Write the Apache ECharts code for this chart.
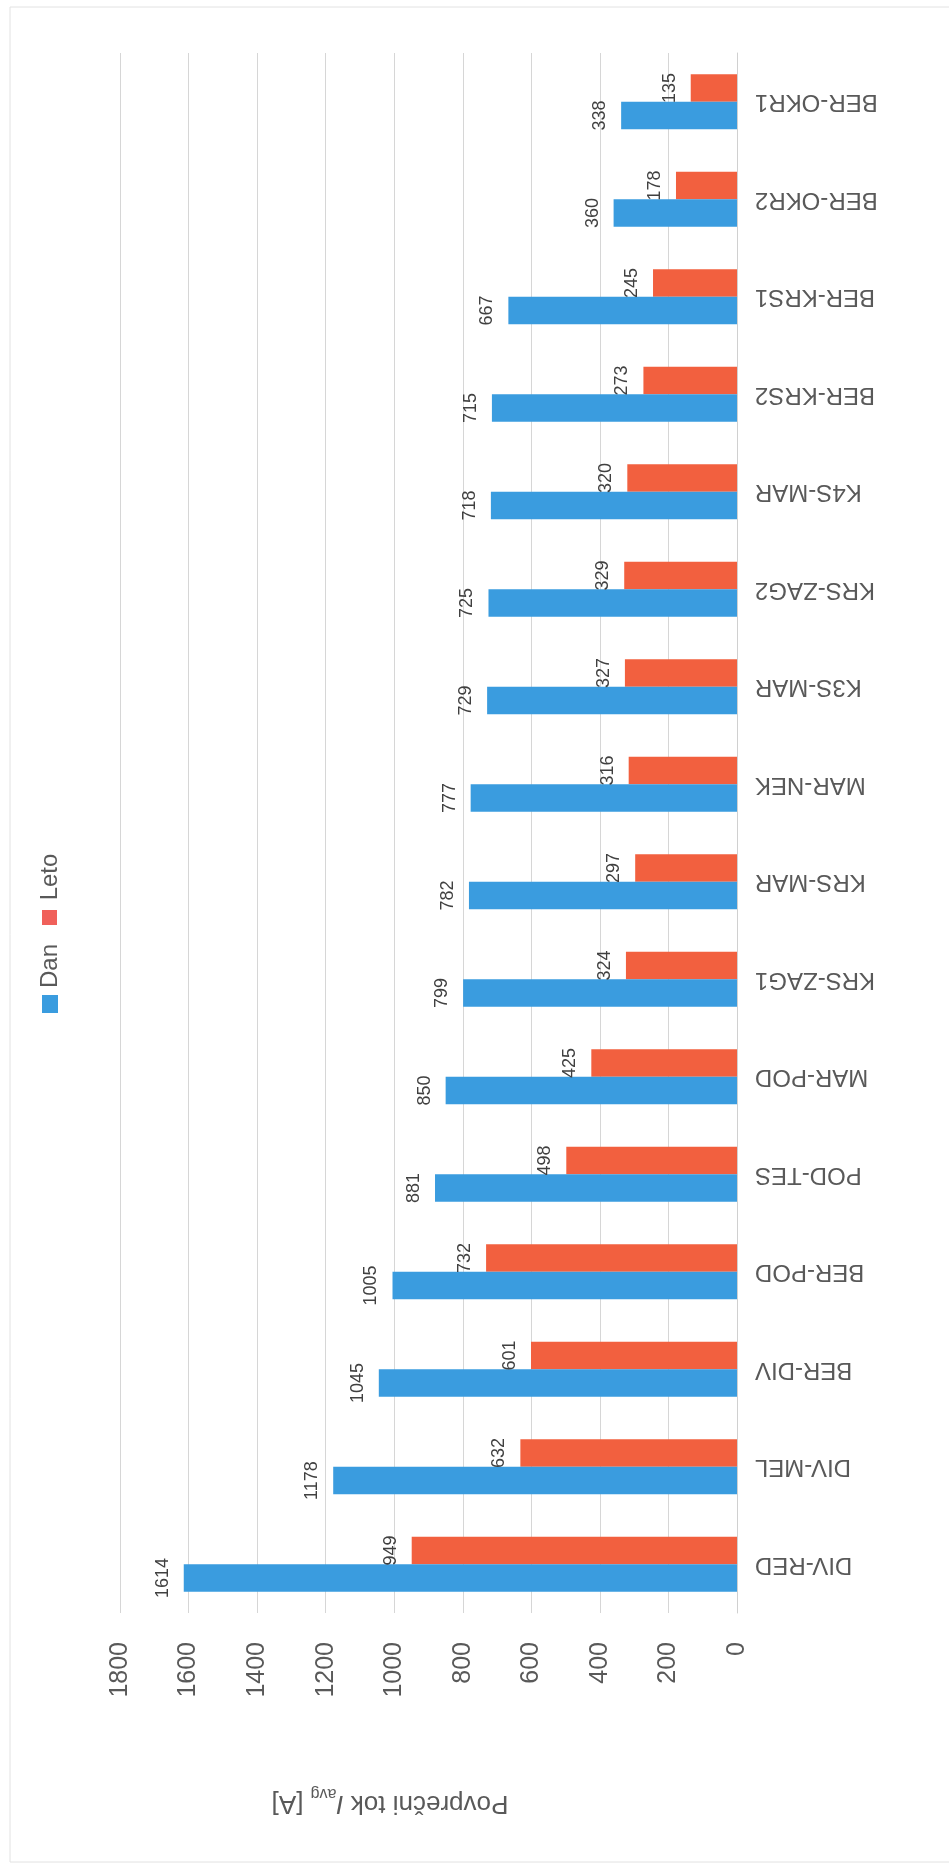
<!DOCTYPE html>
<html>
<head>
<meta charset="utf-8">
<title>Povprečni tok</title>
<script src="https://cdn.jsdelivr.net/npm/echarts@6/dist/echarts.min.js"></script>
<style>
  html, body { margin: 0; padding: 0; background: #fff; }
  #chart { width: 949px; height: 1866px; }
</style>
</head>
<body>
<div id="chart"></div>
<script>
// categories, from the bottom of the page to the top
var categories = [
  "DIV-RED", "DIV-MEL", "BER-DIV", "BER-POD", "POD-TES", "MAR-POD",
  "KRS-ZAG1", "KRS-MAR", "MAR-NEK", "K3S-MAR", "KRS-ZAG2", "K4S-MAR",
  "BER-KRS2", "BER-KRS1", "BER-OKR2", "BER-OKR1"
];
var dan = [1614, 1178, 1045, 1005, 881, 850, 799, 782, 777, 729, 725, 718, 715, 667, 360, 338];
var leto = [949, 632, 601, 732, 498, 425, 324, 297, 316, 327, 329, 320, 273, 245, 178, 135];
var valueTicks = { min: 0, max: 1800, interval: 200 };
var seriesNames = ["Dan", "Leto"];

var blue = "#3a9cdf";
var red = "#f2603f";
var textColor = "#595959";
var font = "Liberation Sans";

var myChart = echarts.init(document.getElementById("chart"));

function barLabel() {
  return {
    show: true,
    position: "left",
    distance: 12,
    rotate: 90,
    align: "center",
    verticalAlign: "bottom",
    color: "#404040",
    fontSize: 18,
    fontFamily: font,
  };
}

myChart.setOption({
  animation: false,
  backgroundColor: "#fff",
  textStyle: { fontFamily: font },
  grid: { left: 120, right: 212, top: 53, bottom: 253 },
  xAxis: {
    type: "value",
    inverse: true,
    position: "bottom",
    min: valueTicks.min,
    max: valueTicks.max,
    interval: valueTicks.interval,
    axisLine: { show: false },
    axisTick: { show: false },
    axisLabel: {
      rotate: 90,
      margin: 29,
      color: textColor,
      fontSize: 25,
      fontFamily: font,
      formatter: function (v) { return String(v); },
    },
    splitLine: { show: true, lineStyle: { color: "#d6d6d6", width: 1 } },
  },
  yAxis: {
    type: "category",
    position: "right",
    data: categories,
    axisLine: { show: true, lineStyle: { color: "#d0d0d0", width: 1 } },
    axisTick: { show: false },
    axisLabel: {
      interval: 0,
      rotate: 180,
      align: "right",
      verticalAlign: "middle",
      margin: 18,
      color: textColor,
      fontSize: 24,
      fontFamily: font,
    },
    splitLine: { show: false },
  },
  // Leto listed first so that it sits above Dan in each group
  series: [
    {
      name: seriesNames[1],
      type: "bar",
      data: leto,
      itemStyle: { color: red },
      barGap: "0%",
      barCategoryGap: "43.5%",
      label: barLabel(),
    },
    {
      name: seriesNames[0],
      type: "bar",
      data: dan,
      itemStyle: { color: blue },
      label: barLabel(),
    },
  ],
  graphic: [
    // faint border of the scanned chart area
    {
      type: "rect",
      shape: { x: 10, y: 7, width: 960, height: 1855 },
      style: { fill: null, stroke: "#e2e2e2", lineWidth: 1 },
      silent: true,
    },
    // legend, turned with the page
    {
      type: "rect",
      shape: { x: 42, y: 995, width: 16, height: 18 },
      style: { fill: blue },
    },
    {
      type: "text",
      x: 50,
      y: 966,
      rotation: Math.PI / 2,
      style: {
        text: seriesNames[0],
        fill: textColor,
        font: "24px " + font,
        align: "center",
        verticalAlign: "middle",
      },
    },
    {
      type: "rect",
      shape: { x: 42, y: 910, width: 15, height: 15 },
      style: { fill: "#f0605a" },
    },
    {
      type: "text",
      x: 50,
      y: 877,
      rotation: Math.PI / 2,
      style: {
        text: seriesNames[1],
        fill: textColor,
        font: "24px " + font,
        align: "center",
        verticalAlign: "middle",
      },
    },
    // value axis title, upside down
    {
      type: "text",
      x: 390,
      y: 1803,
      rotation: Math.PI,
      style: {
        text: "{n|Povprečni tok }{i|I}{s|avg}{n| [A]}",
        align: "center",
        verticalAlign: "middle",
        fill: textColor,
        rich: {
          n: { fontSize: 26, fontFamily: font, color: textColor, lineHeight: 36 },
          i: { fontSize: 26, fontFamily: font, fontStyle: "italic", color: textColor, lineHeight: 36 },
          s: { fontSize: 16, fontFamily: font, color: textColor, lineHeight: 16, verticalAlign: "bottom" },
        },
      },
    },
  ],
});
</script>
</body>
</html>
